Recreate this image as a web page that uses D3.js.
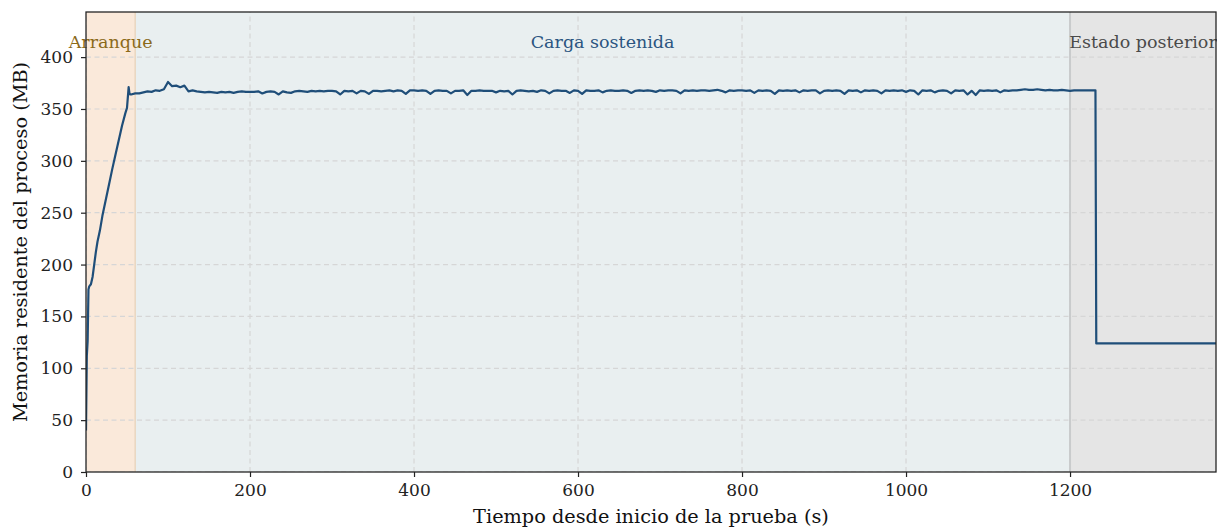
<!DOCTYPE html>
<html>
<head>
<meta charset="utf-8">
<script src="https://cdn.jsdelivr.net/npm/d3@7"></script>
<style>
  html, body { margin: 0; padding: 0; background: #ffffff; overflow: hidden; }
  svg { display: block; font-family: "DejaVu Serif", serif; }
</style>
</head>
<body>
<svg id="chart" width="1217" height="527"></svg>
<script>
// Arranque: muestras del crecimiento inicial de memoria
const tiempoArranque = [0, 1, 2, 3, 4, 6, 8, 10, 12, 14, 17, 20, 24, 28, 32, 36, 40, 44, 48, 50, 52, 53, 54];
const memoriaArranque = [40, 112, 126, 176, 179, 181, 188, 200, 212, 222, 233, 247, 262, 277, 292, 306, 320, 334, 346, 351, 371, 365, 364];

// Carga sostenida: una muestra cada 5 s desde t = 55 s
const inicioCarga = 55;
const pasoCarga = 5;
const memoriaCarga = [
  364, 365, 365, 366, 367, 366.5, 368, 367.5, 369, 376,
  372, 372.5, 371, 372.5, 367, 368, 367, 366.5, 366, 366.5,
  366, 365.5, 366.5, 366, 366.5, 365.5, 366.5, 367, 366.5, 366.5,
  366.5, 367, 365, 366.5, 367, 366.5, 364, 367, 366, 365.5,
  367, 367.5, 367, 366.5, 367.5, 367, 367.5, 367, 367.5, 367.5,
  367, 364, 367.5, 367, 367.5, 365, 367.5, 367, 364.5, 367.5,
  367.5, 367, 367.5, 368, 367, 368, 367.5, 364.5, 368, 368,
  367.5, 368, 367.5, 364.5, 367.5, 368, 367.5, 367.5, 365, 367.5,
  367.5, 368, 363.5, 367.5, 367.5, 368, 367.5, 367.5, 367.5, 366,
  367.5, 367, 367.5, 364, 367.5, 368, 367.5, 367, 367.5, 366.5,
  368, 367.5, 365, 367.5, 368, 367.5, 367.5, 365.5, 368, 367.5,
  364.5, 368, 367.5, 367.5, 368, 366, 367.5, 368, 367.5, 367.5,
  368, 367.5, 365.5, 367.5, 368, 367.5, 368, 367.5, 366.5, 368,
  367.5, 368, 368, 367.5, 365, 368, 367.5, 368, 367.5, 368,
  368, 367.5, 368, 368.5, 367.5, 366, 368, 367.5, 368, 368,
  367.5, 368, 365.5, 368, 367.5, 368, 367.5, 364.5, 368, 367.5,
  368, 367.5, 368, 366, 368, 367.5, 368, 368, 365, 367.5,
  368, 367.5, 368, 367.5, 364.5, 368, 367.5, 368, 366, 368,
  367.5, 368, 367.5, 365, 368, 367.5, 368, 367.5, 368, 366.5,
  368, 367.5, 364, 368, 367.5, 368, 366, 367.5, 368, 367.5,
  365, 368, 367.5, 368, 364, 367.5, 363.5, 368, 367.5, 368,
  367.5, 368, 366, 368, 367.5, 368, 368, 368.5, 369, 368.5,
  368.5, 369, 368.5, 368, 368.5, 368, 368, 368.5, 368, 367.5,
  368, 368, 368, 368, 368, 368
];

// Estado posterior: caída tras finalizar la prueba
const tiempoPosterior = [1231, 1232, 1378];
const memoriaPosterior = [368, 124, 124];

// Fases de la prueba
const fases = ["Arranque", "Carga sostenida", "Estado posterior"];
const faseInicio = [0, 60, 1200];
const faseFin = [60, 1200, 1378];
const faseFondo = ["#fae9da", "#e9eff0", "#e5e5e5"];
const faseTexto = ["#8b6a1a", "#2b5580", "#4a4a4a"];

// Marcas de los ejes
const ticksX = [0, 200, 400, 600, 800, 1000, 1200];
const ticksY = [0, 50, 100, 150, 200, 250, 300, 350, 400];

const serie = [];
tiempoArranque.forEach((t, i) => serie.push([t, memoriaArranque[i]]));
memoriaCarga.forEach((v, i) => serie.push([inicioCarga + i * pasoCarga, v]));
tiempoPosterior.forEach((t, i) => serie.push([t, memoriaPosterior[i]]));

const svg = d3.select("#chart");
const margin = { left: 86, top: 12, right: 1, bottom: 55 };
const W = 1217, H = 527;
const xMax = 1378, yMax = 443.5;
const x = d3.scaleLinear().domain([0, xMax]).range([margin.left, W - margin.right]);
const y = d3.scaleLinear().domain([0, yMax]).range([H - margin.bottom, margin.top]);

svg.append("defs").append("clipPath").attr("id", "area")
  .append("rect")
  .attr("x", x(0)).attr("y", y(yMax))
  .attr("width", x(xMax) - x(0)).attr("height", y(0) - y(yMax));

const plot = svg.append("g").attr("clip-path", "url(#area)");

// Fondos de fase
plot.selectAll("rect.fase").data(fases).join("rect")
  .attr("class", "fase")
  .attr("x", (d, i) => x(faseInicio[i]))
  .attr("width", (d, i) => x(faseFin[i]) - x(faseInicio[i]))
  .attr("y", y(yMax))
  .attr("height", y(0) - y(yMax))
  .attr("fill", (d, i) => faseFondo[i]);

// Rejilla discontinua
plot.selectAll("line.gx").data(ticksX).join("line")
  .attr("class", "gx")
  .attr("x1", d => x(d)).attr("x2", d => x(d))
  .attr("y1", y(0)).attr("y2", y(yMax))
  .attr("stroke", "#d6d6d6").attr("stroke-width", 1.2).attr("stroke-dasharray", "5,3.5");
plot.selectAll("line.gy").data(ticksY).join("line")
  .attr("class", "gy")
  .attr("x1", x(0)).attr("x2", x(xMax))
  .attr("y1", d => y(d)).attr("y2", d => y(d))
  .attr("stroke", "#d6d6d6").attr("stroke-width", 1.2).attr("stroke-dasharray", "5,3.5");

// Límites entre fases
plot.append("line")
  .attr("x1", x(60)).attr("x2", x(60)).attr("y1", y(0)).attr("y2", y(yMax))
  .attr("stroke", "#e9d6c0").attr("stroke-width", 1.5);
plot.append("line")
  .attr("x1", x(1200)).attr("x2", x(1200)).attr("y1", y(0)).attr("y2", y(yMax))
  .attr("stroke", "#c9cbcc").attr("stroke-width", 2);

// Serie de memoria
const linea = d3.line().x(d => x(d[0])).y(d => y(d[1]));
plot.append("path")
  .datum(serie)
  .attr("d", linea)
  .attr("fill", "none")
  .attr("stroke", "#1f4e79")
  .attr("stroke-width", 2.2)
  .attr("stroke-linejoin", "round");

// Etiquetas de fase (sin recorte)
svg.selectAll("text.fase").data(fases).join("text")
  .attr("class", "fase")
  .attr("x", (d, i) => x((faseInicio[i] + faseFin[i]) / 2))
  .attr("y", y(414.5))
  .attr("text-anchor", "middle")
  .attr("dominant-baseline", "central")
  .attr("font-size", 17.5)
  .attr("fill", (d, i) => faseTexto[i])
  .text(d => d);

// Ejes
const ejeX = d3.axisBottom(x).tickValues(ticksX).tickSize(5).tickPadding(7).tickFormat(d3.format("d"));
const ejeY = d3.axisLeft(y).tickValues(ticksY).tickSize(5).tickPadding(8).tickFormat(d3.format("d"));

const gx = svg.append("g").attr("transform", `translate(0,${y(0)})`).call(ejeX);
const gy = svg.append("g").attr("transform", `translate(${x(0)},0)`).call(ejeY);
[gx, gy].forEach(g => {
  g.select(".domain").remove();
  g.selectAll(".tick line").attr("stroke", "#222").attr("stroke-width", 1.2);
  g.selectAll(".tick text").attr("font-size", 17).attr("font-family", "DejaVu Serif").attr("fill", "#222");
});

// Marco del área de trazado
svg.append("rect")
  .attr("x", x(0)).attr("y", y(yMax))
  .attr("width", x(xMax) - x(0)).attr("height", y(0) - y(yMax))
  .attr("fill", "none").attr("stroke", "#262626").attr("stroke-width", 1.3);

// Títulos de ejes
svg.append("text")
  .attr("x", (x(0) + x(xMax)) / 2)
  .attr("y", 516)
  .attr("text-anchor", "middle")
  .attr("dominant-baseline", "central")
  .attr("font-size", 19.3)
  .attr("fill", "#111")
  .text("Tiempo desde inicio de la prueba (s)");

svg.append("text")
  .attr("transform", `translate(20,${(y(0) + y(yMax)) / 2}) rotate(-90)`)
  .attr("text-anchor", "middle")
  .attr("dominant-baseline", "central")
  .attr("font-size", 19.3)
  .attr("fill", "#111")
  .text("Memoria residente del proceso (MB)");
</script>
</body>
</html>
